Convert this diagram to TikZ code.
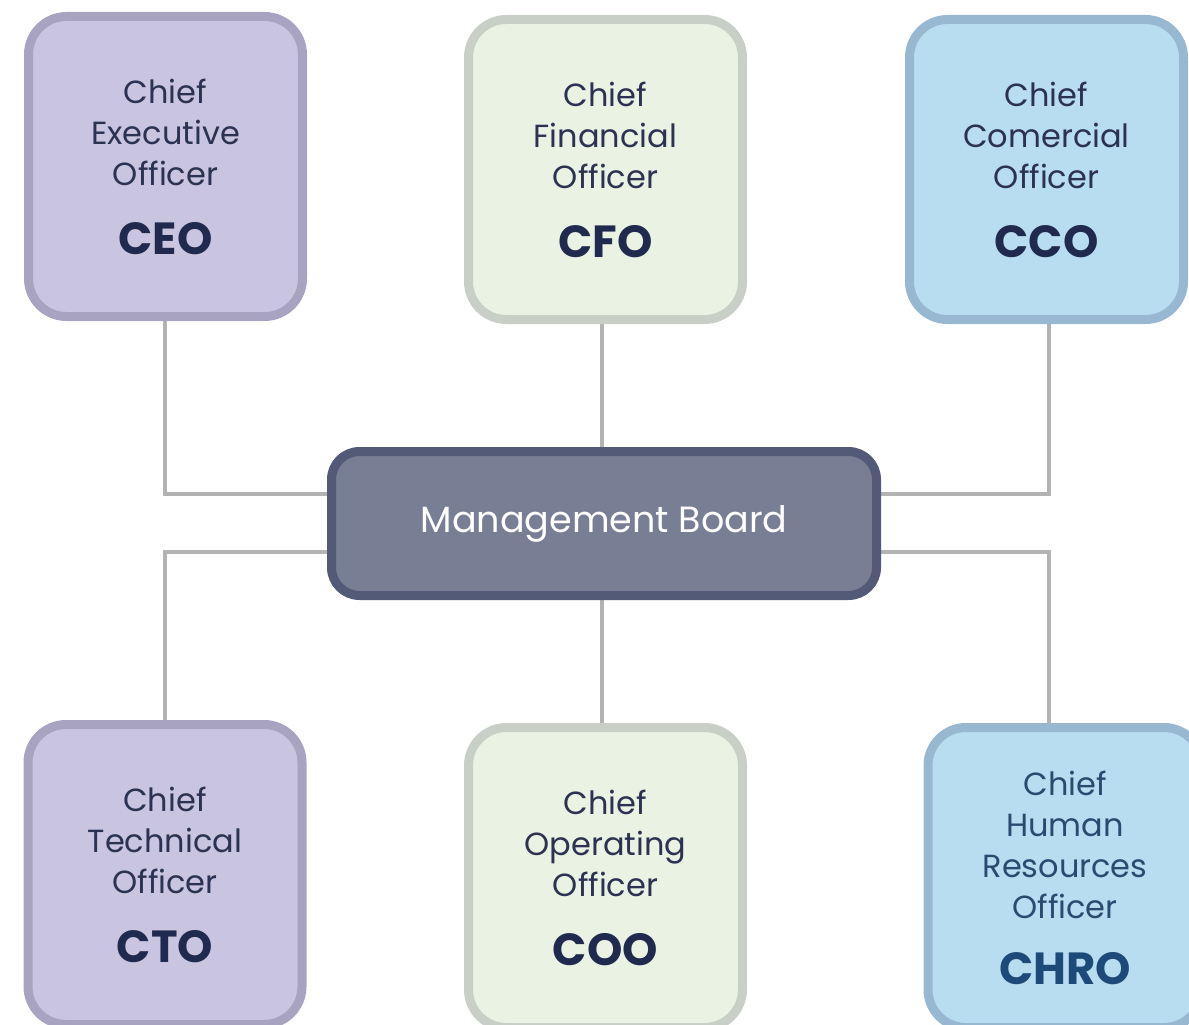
\documentclass[tikz,border=0pt]{standalone}
\usepackage{fontspec}
\setmainfont{Poppins}
\usetikzlibrary{backgrounds}
\definecolor{txt}{HTML}{2B3252}
\definecolor{abbr}{HTML}{1F2A4E}
\definecolor{hrtxt}{HTML}{2A4A70}
\definecolor{hrabbr}{HTML}{1D4A78}
\definecolor{purfill}{HTML}{C9C4DF}
\definecolor{purline}{HTML}{A8A3C1}
\definecolor{grnfill}{HTML}{EAF2E3}
\definecolor{grnline}{HTML}{C7CFC7}
\definecolor{blufill}{HTML}{B8DDF0}
\definecolor{bluline}{HTML}{98B8D1}
\definecolor{mbfill}{HTML}{787E94}
\definecolor{mbline}{HTML}{525A78}
\definecolor{conn}{HTML}{B3B3B3}
\newcommand{\abbrfont}{\fontsize{45}{46}\selectfont\bfseries}
\tikzset{
  x=1pt, y=-1pt,
  officer/.style={draw, line width=9pt, rounded corners=38pt, minimum width=274pt,
    minimum height=300pt, inner sep=0pt, align=center, text=txt,
    font=\fontsize{32}{41}\selectfont},
  purple/.style={officer, fill=purfill, draw=purline},
  green/.style={officer, fill=grnfill, draw=grnline},
  blue/.style={officer, fill=blufill, draw=bluline},
  board/.style={draw=mbline, fill=mbfill, line width=9pt, rounded corners=28pt,
    minimum width=545pt, minimum height=144pt, inner sep=0pt, text=white,
    font=\fontsize{36.5}{40}\selectfont},
  link/.style={draw=conn, line width=4pt},
}
\begin{document}
\begin{tikzpicture}
\useasboundingbox (0,0) rectangle (1189,1025);
\node[purple] (ceo) at (165.5,166.5) {Chief\\Executive\\Officer\\[28pt]{\abbrfont\color{abbr}CEO}};
\node[green] (cfo) at (605.5,169.5) {Chief\\Financial\\Officer\\[28pt]{\abbrfont\color{abbr}CFO}};
\node[blue] (cco) at (1046.5,169.5) {Chief\\Comercial\\Officer\\[28pt]{\abbrfont\color{abbr}CCO}};
\node[board] (mb) at (604,523.5) {Management Board};
\node[purple] (cto) at (165,874.5) {Chief\\Technical\\Officer\\[28pt]{\abbrfont\color{abbr}CTO}};
\node[green] (coo) at (605.5,877.5) {Chief\\Operating\\Officer\\[28pt]{\abbrfont\color{abbr}COO}};
\node[blue, text=hrtxt] (chro) at (1065,877.5) {Chief\\Human\\Resources\\Officer\\[25pt]{\abbrfont\color{hrabbr}CHRO}};
\coordinate (j1) at (165,494);
\coordinate (j2) at (602,0);
\coordinate (j3) at (1049,494);
\coordinate (j4) at (165,552);
\coordinate (j5) at (1049,552);
\begin{scope}[on background layer]
\draw[link] (j1 |- ceo.south) -- (j1) -- (j1 -| mb.west);
\draw[link] (j2 |- cfo.south) -- (j2 |- mb.north);
\draw[link] (j3 |- cco.south) -- (j3) -- (j3 -| mb.east);
\draw[link] (j4 -| mb.west) -- (j4) -- (j4 |- cto.north);
\draw[link] (j2 |- mb.south) -- (j2 |- coo.north);
\draw[link] (j5 -| mb.east) -- (j5) -- (j5 |- chro.north);
\end{scope}
\end{tikzpicture}
\end{document}
